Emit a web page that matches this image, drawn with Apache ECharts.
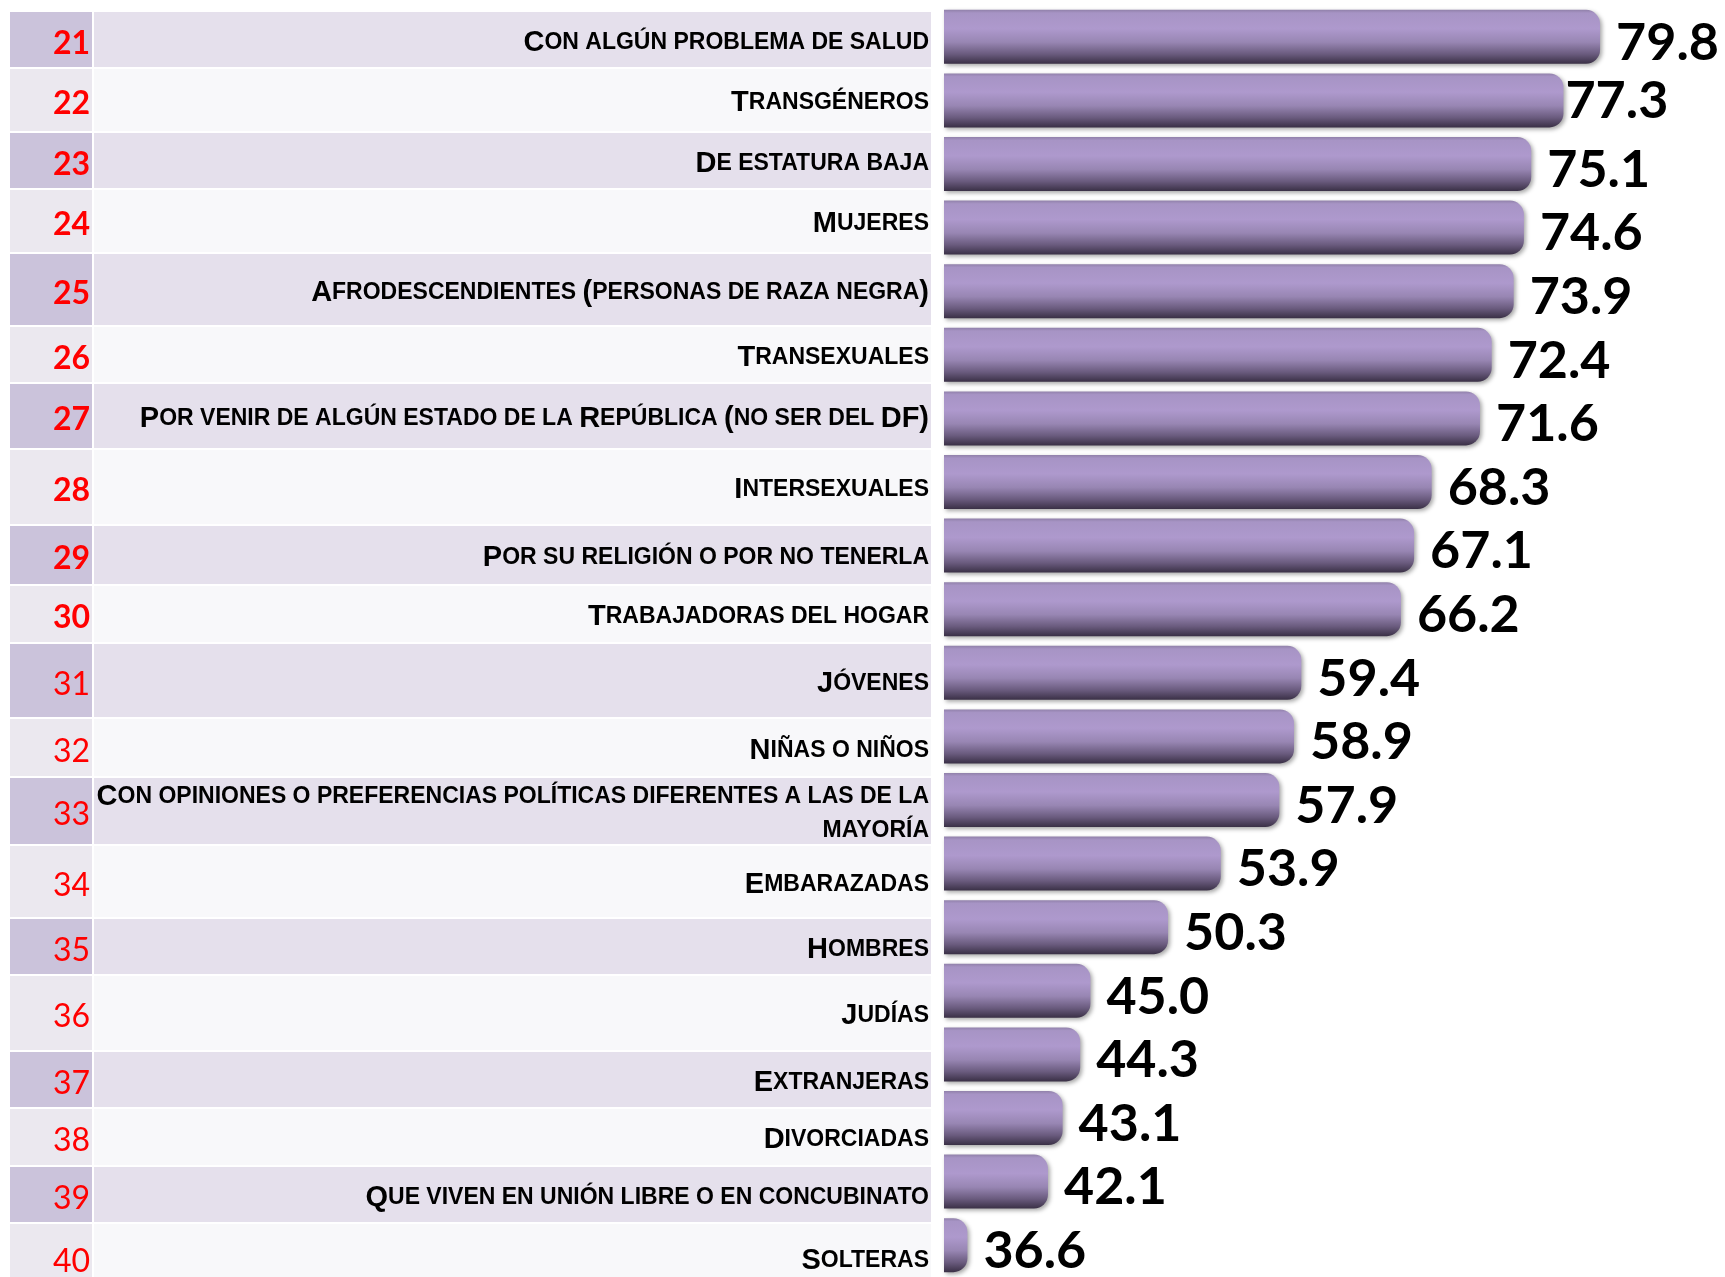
<!DOCTYPE html>
<html>
<head>
<meta charset="utf-8">
<script src="https://cdn.jsdelivr.net/npm/echarts@6/dist/echarts.min.js"></script>
<style>
  html, body { margin: 0; padding: 0; background: #ffffff; }
  #chart { width: 1725px; height: 1277px; }
</style>
</head>
<body>
<div id="chart"></div>
<script>
// datos
var ranks = [21, 22, 23, 24, 25, 26, 27, 28, 29, 30, 31, 32, 33, 34, 35, 36, 37, 38, 39, 40];
var groups = [
  "Con algún problema de salud",
  "Transgéneros",
  "De estatura baja",
  "Mujeres",
  "Afrodescendientes (personas de raza negra)",
  "Transexuales",
  "Por venir de algún estado de la República (no ser del DF)",
  "Intersexuales",
  "Por su religión o por no tenerla",
  "Trabajadoras del hogar",
  "Jóvenes",
  "Niñas o niños",
  "Con opiniones o preferencias políticas diferentes a las de la\nmayoría",
  "Embarazadas",
  "Hombres",
  "Judías",
  "Extranjeras",
  "Divorciadas",
  "Que viven en unión libre o en concubinato",
  "Solteras"
];
var values = [79.8, 77.3, 75.1, 74.6, 73.9, 72.4, 71.6, 68.3, 67.1, 66.2,
              59.4, 58.9, 57.9, 53.9, 50.3, 45.0, 44.3, 43.1, 42.1, 36.6];

// bordes de las filas de la tabla (en px del lienzo)
var rowEdges = [11, 68, 132, 189, 253, 326, 383, 449, 525, 585,
                643, 718, 777, 845, 918, 975, 1051, 1108, 1166, 1223, 1292];

// convierte texto a "versalitas" con rich text
function smallCaps(s) {
  return s.split("\n").map(function (line) {
    var out = "", cur = null, buf = "";
    for (var i = 0; i < line.length; i++) {
      var c = line[i], kind;
      if (c !== c.toUpperCase()) { kind = "s"; c = c.toUpperCase(); }
      else if (c === " ") { kind = "s"; }
      else { kind = "b"; }
      if (kind !== cur && buf) { out += "{" + cur + "|" + buf + "}"; buf = ""; }
      cur = kind; buf += c;
    }
    if (buf) out += "{" + cur + "|" + buf + "}";
    return out;
  }).join("\n");
}

var chart = echarts.init(document.getElementById("chart"));

var barGradient = new echarts.graphic.LinearGradient(0, 0, 0, 1, [
  { offset: 0, color: "#9181aa" },
  { offset: 0.06, color: "#a794c5" },
  { offset: 0.35, color: "#ae99cd" },
  { offset: 0.6, color: "#9886b3" },
  { offset: 0.82, color: "#6a5b7e" },
  { offset: 1, color: "#3a3046" }
]);

function renderRow(params, api) {
  var i = api.value(0);
  var odd = i % 2 === 0;
  var p0 = api.coord([10, rowEdges[i] + 1]);
  var p1 = api.coord([92, rowEdges[i + 1] - 1]);
  var p2 = api.coord([94, rowEdges[i] + 1]);
  var p3 = api.coord([931, rowEdges[i + 1] - 1]);
  var cy = (p0[1] + p1[1]) / 2;
  return {
    type: "group",
    children: [
      { type: "rect", shape: { x: p0[0], y: p0[1], width: p1[0] - p0[0], height: p1[1] - p0[1] },
        style: { fill: odd ? "#cbc3db" : "#ebe8ef" } },
      { type: "rect", shape: { x: p2[0], y: p2[1], width: p3[0] - p2[0], height: p3[1] - p2[1] },
        style: { fill: odd ? "#e5e0ec" : "#f8f8fa" } },
      { type: "text",
        style: {
          text: String(ranks[i]), x: p1[0] - 2, y: cy + 4,
          align: "right", verticalAlign: "middle",
          font: (ranks[i] <= 30 ? "bold " : "") + "32px Lato",
          fill: "#ff0000"
        } },
      { type: "text",
        style: {
          text: smallCaps(groups[i]), x: p3[0] - 2, y: cy + 3,
          align: "right", verticalAlign: "middle",
          fill: "#000000",
          lineHeight: 34,
          rich: {
            b: { fontFamily: "Liberation Sans", fontWeight: "bold", fontSize: 29, fill: "#000", color: "#000", lineHeight: 34 },
            s: { fontFamily: "Liberation Sans", fontWeight: "bold", fontSize: 23, fill: "#000", color: "#000", lineHeight: 34 }
          }
        } }
    ]
  };
}

chart.setOption({
  animation: false,
  grid: [
    { left: 944, width: 659, top: 5, height: 1282 },
    { left: 0, top: 0, width: 1725, height: 1277 }
  ],
  xAxis: [
    { type: "value", gridIndex: 0, min: 35, max: 80, show: false },
    { type: "value", gridIndex: 1, min: 0, max: 1725, show: false }
  ],
  yAxis: [
    { type: "category", gridIndex: 0, data: ranks, inverse: true, show: false },
    { type: "value", gridIndex: 1, min: 0, max: 1277, inverse: true, show: false }
  ],
  series: [
    {
      type: "custom",
      xAxisIndex: 1,
      yAxisIndex: 1,
      clip: false,
      silent: true,
      z: 1,
      data: ranks.map(function (r, i) { return [i]; }),
      renderItem: renderRow
    },
    {
      type: "bar",
      xAxisIndex: 0,
      yAxisIndex: 0,
      z: 3,
      barWidth: 54,
      data: values.map(function (v, i) {
        return i === 1 ? { value: v, label: { distance: 2, offset: [0, 1] } } : v;
      }),
      itemStyle: {
        color: barGradient,
        borderRadius: [0, 14, 14, 0],
        shadowColor: "rgba(0,0,0,0.35)",
        shadowBlur: 4,
        shadowOffsetX: 2,
        shadowOffsetY: 2
      },
      label: {
        show: true,
        position: "right",
        distance: 16,
        offset: [0, 6],
        fontFamily: "Lato",
        fontWeight: "bold",
        fontSize: 52,
        color: "#000000",
        formatter: function (p) { return p.value.toFixed(1); }
      }
    }
  ]
});
</script>
</body>
</html>
